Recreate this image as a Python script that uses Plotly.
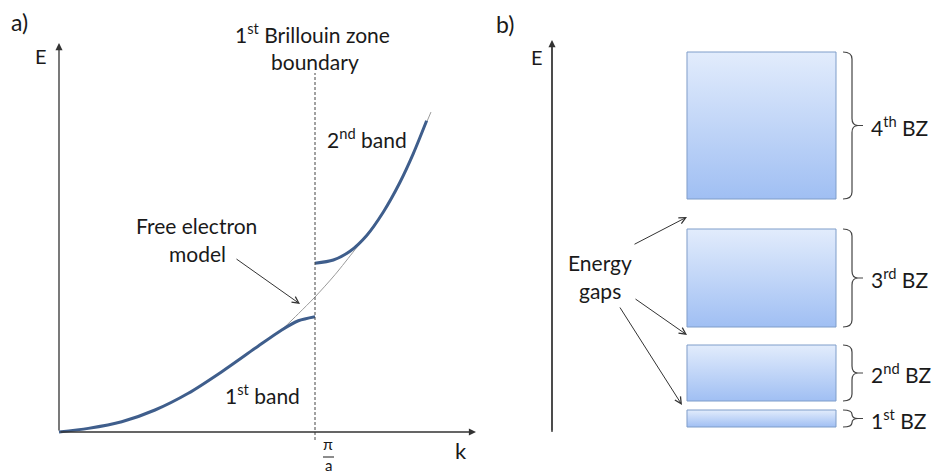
import plotly.graph_objects as go

W, H = 933, 474

# ---------------- Panel a data (k in units of pi/a, E in arbitrary units) ----------------
band1_k = [0.0, 0.1145, 0.245, 0.375, 0.505, 0.636, 0.766, 0.870, 0.935, 1.0]
band1_E = [0.0, 0.027, 0.076, 0.163, 0.287, 0.447, 0.620, 0.756, 0.824, 0.854]

band2_k = [1.0, 1.0716, 1.1367, 1.202, 1.267, 1.332, 1.384, 1.436]
band2_E = [1.250, 1.274, 1.339, 1.456, 1.630, 1.850, 2.062, 2.305]

free_k = [0.870, 0.935, 1.0, 1.078, 1.156, 1.202, 1.267, 1.332, 1.384, 1.453]
free_E = [0.756, 0.876, 1.0, 1.165, 1.350, 1.462, 1.634, 1.853, 2.064, 2.370]

zone_boundary_k = 1.0

# ---------------- Panel b data (energy bands of the Brillouin zones) ----------------
bz_labels = ["1<sup>st</sup> BZ", "2<sup>nd</sup> BZ", "3<sup>rd</sup> BZ", "4<sup>th</sup> BZ"]
bz_bottom = [0.5, 3.1, 10.5, 23.3]
bz_top = [2.2, 8.7, 20.3, 38.0]
box_x0, box_x1 = 1.35, 2.84

FONT = "Lato, 'Open Sans', sans-serif"
INK = "#1a1a1a"
BAND_COLOR = "#3f5e8c"

# pixel -> axis mapping helpers (layout only)
ax_px0, ax_pxu = 59, 256.0      # k=0 at px 59, 256 px per unit
ay_py0, ay_pyu = 432, 135.0     # E=0 at py 432, 135 px per unit
bx_px0, bx_pxu = 552, 100.0
by_py0, by_pyu = 432, 10.0
split = 0.53


def kx(px):
    return (px - ax_px0) / ax_pxu


def ey(py):
    return (ay_py0 - py) / ay_pyu


def bx(px):
    return (px - bx_px0) / bx_pxu


def by(py):
    return (by_py0 - py) / by_pyu


def P(px, py):
    return px / W, 1 - py / H


fig = go.Figure()

# Panel a curves
fig.add_trace(go.Scatter(x=free_k, y=free_E, mode="lines", xaxis="x", yaxis="y",
                         line=dict(color="#9a9a9a", width=1, shape="spline", smoothing=0.8),
                         cliponaxis=False))
fig.add_trace(go.Scatter(x=band1_k, y=band1_E, mode="lines", xaxis="x", yaxis="y",
                         line=dict(color=BAND_COLOR, width=3, shape="spline", smoothing=0.8),
                         cliponaxis=False))
fig.add_trace(go.Scatter(x=band2_k, y=band2_E, mode="lines", xaxis="x", yaxis="y",
                         line=dict(color=BAND_COLOR, width=3, shape="spline", smoothing=0.8),
                         cliponaxis=False))

# Panel b boxes
for b, t in zip(bz_bottom, bz_top):
    fig.add_trace(go.Scatter(
        x=[box_x0, box_x1, box_x1, box_x0, box_x0], y=[b, b, t, t, b],
        mode="lines", fill="toself", xaxis="x2", yaxis="y2",
        line=dict(color="#7f9dc9", width=1),
        fillgradient=dict(type="vertical", colorscale=[[0, "#a0bff3"], [1, "#e2ecfc"]]),
        cliponaxis=False))

shapes = []
annotations = []

# Dashed zone boundary
shapes.append(dict(type="line", xref="x", yref="y", x0=zone_boundary_k, x1=zone_boundary_k,
                   y0=ey(440), y1=ey(73), line=dict(color="#444", width=1, dash="3px,2px")))

# pi/a fraction bar
shapes.append(dict(type="line", xref="paper", yref="paper", x0=323 / W, x1=334 / W,
                   y0=1 - 457 / H, y1=1 - 457 / H, line=dict(color=INK, width=1)))

# Brackets
bx0, bx1, bx2, bx3 = bx(843), bx(852), bx(858), bx(863)
for b, t in zip(bz_bottom, bz_top):
    m = (b + t) / 2
    r = min(0.7, (t - b) / 4)
    path = (f"M {bx0},{t} Q {bx1},{t} {bx1},{t - r} L {bx1},{m + r} "
            f"Q {bx1},{m} {bx2},{m} L {bx3},{m} M {bx2},{m} Q {bx1},{m} {bx1},{m - r} "
            f"L {bx1},{b + r} Q {bx1},{b} {bx0},{b}")
    shapes.append(dict(type="path", xref="x2", yref="y2", path=path,
                       line=dict(color="#444", width=1.2)))

# Axis arrows
annotations.append(dict(xref="x", yref="y", axref="x", ayref="y", x=0, y=ey(43), ax=0, ay=0,
                        showarrow=True, arrowhead=2, arrowsize=1.1, arrowwidth=1.3,
                        arrowcolor="#333", text=""))
annotations.append(dict(xref="x", yref="y", axref="x", ayref="y", x=kx(476), y=0, ax=0, ay=0,
                        showarrow=True, arrowhead=2, arrowsize=1.1, arrowwidth=1.3,
                        arrowcolor="#333", text=""))
annotations.append(dict(xref="x2", yref="y2", axref="x2", ayref="y2", x=0, y=by(40), ax=0, ay=0,
                        showarrow=True, arrowhead=2, arrowsize=1.1, arrowwidth=1.3,
                        arrowcolor="#333", text=""))

# Free electron pointer
annotations.append(dict(xref="x", yref="y", axref="x", ayref="y", x=kx(300), y=ey(304),
                        ax=kx(235), ay=ey(258), showarrow=True, arrowhead=5, arrowsize=1.3,
                        arrowwidth=1, arrowcolor="#333", text=""))

# Energy gap pointers
gap_arrows = [((633, 245), (687, 217)), ((634, 298), (687, 335)), ((619, 306), (682, 405))]
for (tx, ty), (hx, hy) in gap_arrows:
    annotations.append(dict(xref="x2", yref="y2", axref="x2", ayref="y2", x=bx(hx), y=by(hy),
                            ax=bx(tx), ay=by(ty), showarrow=True, arrowhead=5, arrowsize=1.3,
                            arrowwidth=1, arrowcolor="#333", text=""))


def label(text, px, py, size=21, xanchor="center"):
    x, y = P(px, py)
    annotations.append(dict(xref="paper", yref="paper", x=x, y=y, text=text, showarrow=False,
                            xanchor=xanchor, yanchor="middle",
                            font=dict(family=FONT, size=size, color=INK)))


label("a)", 9, 22, 23, "left")
label("b)", 494, 24, 23, "left")
label("E", 41, 56, 20)
label("E", 537, 57, 20)
label("1<sup>st</sup> Brillouin zone", 312, 33, 21)
label("boundary", 315, 62, 21)
label("2<sup>nd</sup> band", 325, 138, 21, "left")
label("Free electron", 196, 226, 21)
label("model", 197, 253, 21)
label("1<sup>st</sup> band", 262, 394, 21)
label("π", 328, 443, 16)
label("a", 328, 465, 15)
label("k", 461, 450, 22)
label("Energy", 600, 262, 21)
label("gaps", 600, 290, 21)

for lab, b, t in zip(bz_labels, bz_bottom, bz_top):
    annotations.append(dict(xref="x2", yref="y2", x=bx(869), y=(b + t) / 2, text=lab,
                            showarrow=False, xanchor="left", yanchor="middle",
                            font=dict(family=FONT, size=21, color=INK)))

ax_hidden = dict(visible=False, fixedrange=True)
fig.update_layout(
    width=W, height=H, margin=dict(l=0, r=0, t=0, b=0),
    paper_bgcolor="white", plot_bgcolor="white", showlegend=False, hovermode=False,
    xaxis=dict(ax_hidden, domain=[0, split], range=[kx(0), kx(split * W)]),
    yaxis=dict(ax_hidden, domain=[0, 1], range=[ey(H), ey(0)]),
    xaxis2=dict(ax_hidden, domain=[split, 1], range=[bx(split * W), bx(W)]),
    yaxis2=dict(ax_hidden, domain=[0, 1], range=[by(H), by(0)]),
    shapes=shapes + [dict(type="line", xref="x2", yref="y2", x0=0, x1=0, y0=0, y1=by(45),
                          line=dict(color="#333", width=1.3))],
    annotations=annotations,
)

fig.write_html("out.html")
